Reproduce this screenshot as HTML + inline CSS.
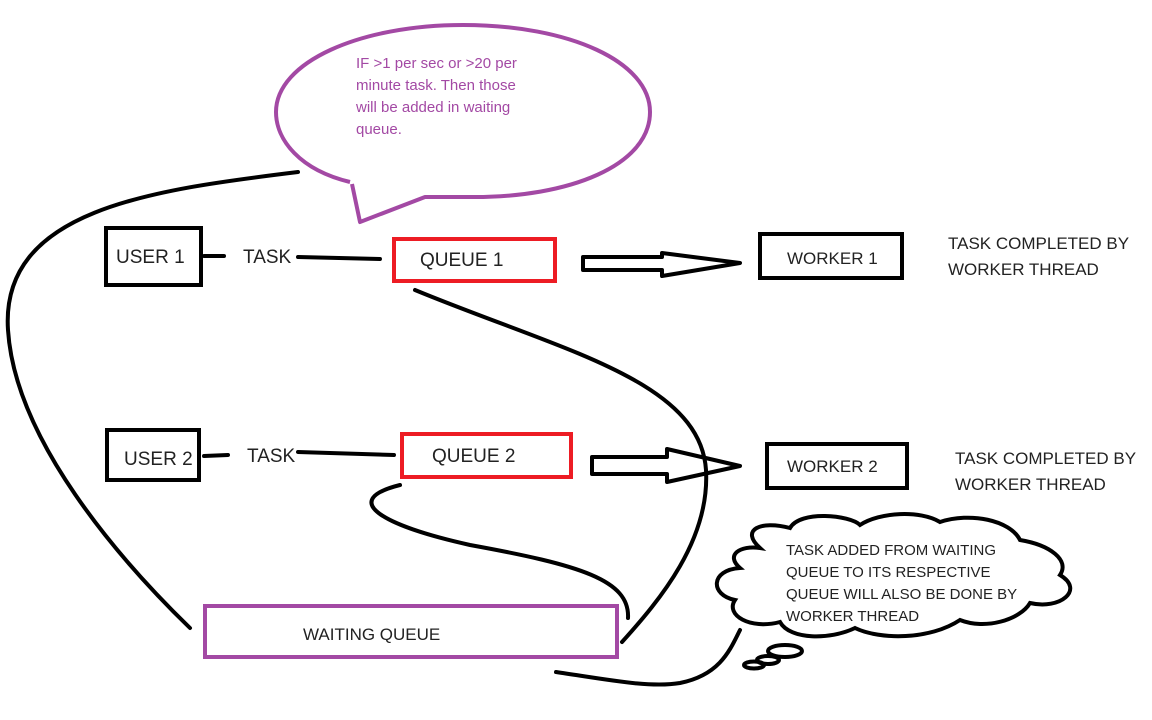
<!DOCTYPE html>
<html><head><meta charset="utf-8"><style>
html,body{margin:0;padding:0;background:#fff;}
svg{display:block;}
text{font-family:"Liberation Sans",sans-serif;}
</style></head><body>
<svg width="1152" height="720" viewBox="0 0 1152 720" xmlns="http://www.w3.org/2000/svg">
<g fill="none" stroke="#000" stroke-width="4" stroke-linecap="round">
<!-- boxes -->
<rect x="106" y="228" width="95" height="57"/>
<rect x="107" y="430" width="92" height="50"/>
<rect x="760" y="234" width="142" height="44"/>
<rect x="767" y="444" width="140" height="44"/>
<!-- task lines -->
<line x1="204" y1="256" x2="224" y2="256"/>
<line x1="298" y1="257" x2="380" y2="259"/>
<line x1="204" y1="456" x2="228" y2="455"/>
<line x1="298" y1="452" x2="394" y2="455"/>
<!-- block arrows -->
<path d="M583 257 L662 257 L662 253 L740 263 L662 276 L662 270 L583 270 Z" stroke-linejoin="round"/>
<path d="M592 457 L667 457 L667 449 L740 466 L667 482 L667 474 L592 474 Z" stroke-linejoin="round"/>
<!-- curves -->
<path d="M298 172 C 150 190, 0 210, 8 330 C 15 440, 120 560, 190 628"/>
<path d="M415 290 C 560 350, 700 380, 706 470 C 710 540, 660 600, 622 642"/>
<path d="M400 485 C 340 500, 380 525, 470 545 C 580 565, 630 580, 628 618"/>
<path d="M556 672 C 610 680, 650 688, 680 683 C 720 675, 730 650, 740 630"/>
<!-- thought cloud -->
<path d="M760 548 C 740 530, 760 520, 790 528 C 800 510, 850 515, 860 525 C 880 512, 920 510, 940 522 C 970 512, 1010 520, 1020 540 C 1050 545, 1070 560, 1060 575 C 1085 590, 1060 610, 1030 603 C 1020 620, 985 630, 960 620 C 930 640, 880 640, 855 628 C 830 640, 790 640, 780 622 C 750 630, 725 615, 735 600 C 710 595, 710 570, 740 568 C 725 555, 740 545, 760 548 Z" stroke-width="4"/>
<ellipse cx="785" cy="651" rx="17" ry="6"/>
<ellipse cx="768" cy="660" rx="11" ry="4"/>
<ellipse cx="754" cy="665" rx="10" ry="3.5"/>
</g>
<!-- red queues -->
<rect x="394" y="239" width="161" height="42" fill="none" stroke="#ed1c24" stroke-width="4"/>
<rect x="402" y="434" width="169" height="43" fill="none" stroke="#ed1c24" stroke-width="4"/>
<!-- waiting queue -->
<rect x="205" y="606" width="412" height="51" fill="none" stroke="#a349a4" stroke-width="4"/>
<!-- speech bubble -->
<path d="M350 182 C 300 170, 276 140, 276 112 C 276 62, 360 25, 463 25 C 570 25, 650 62, 650 112 C 650 165, 570 198, 470 197 L 425 197 L 360 222 L 352 184" fill="#fff" stroke="#a349a4" stroke-width="4" stroke-linejoin="round"/>
<g font-size="15" fill="#a349a4">
<text x="356" y="68">IF &gt;1 per sec or &gt;20 per</text>
<text x="356" y="90">minute task. Then those</text>
<text x="356" y="112">will be added in waiting</text>
<text x="356" y="134">queue.</text>
</g>
<g fill="#222" font-size="19">
<text x="116" y="263">USER 1</text>
<text x="124" y="465">USER 2</text>
<text x="243" y="263">TASK</text>
<text x="247" y="462">TASK</text>
<text x="420" y="266">QUEUE 1</text>
<text x="432" y="462">QUEUE 2</text>
</g>
<g fill="#222" font-size="17">
<text x="787" y="264">WORKER 1</text>
<text x="787" y="472">WORKER 2</text>
<text x="303" y="640">WAITING QUEUE</text>
<text x="948" y="249">TASK COMPLETED BY</text>
<text x="948" y="275">WORKER THREAD</text>
<text x="955" y="464">TASK COMPLETED BY</text>
<text x="955" y="490">WORKER THREAD</text>
</g>
<g fill="#222" font-size="15">
<text x="786" y="555">TASK ADDED FROM WAITING</text>
<text x="786" y="577">QUEUE TO ITS RESPECTIVE</text>
<text x="786" y="599">QUEUE WILL ALSO BE DONE BY</text>
<text x="786" y="621">WORKER THREAD</text>
</g>
</svg>
</body></html>
